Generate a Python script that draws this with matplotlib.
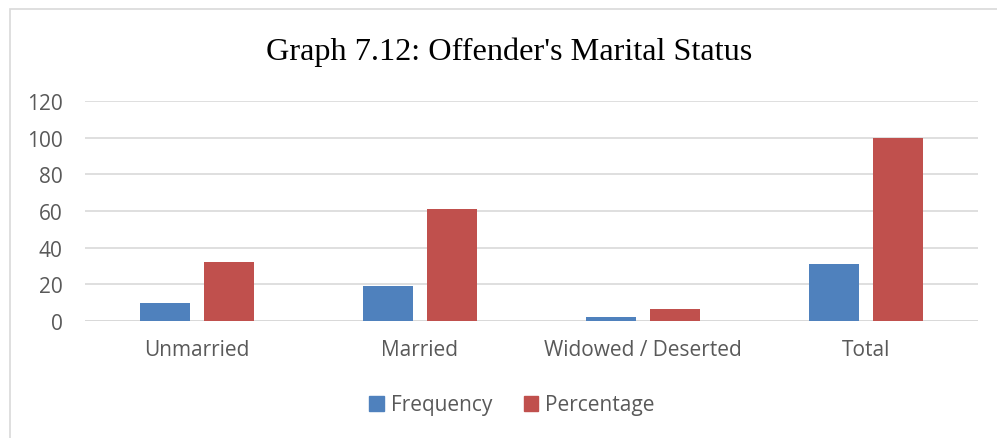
import numpy as np
import matplotlib.pyplot as plt
import matplotlib.patches as mpatches

# --- Data ---
categories = ["Unmarried", "Married", "Widowed / Deserted", "Total"]
frequency = [10, 19, 2, 31]
percentage = [32.26, 61.29, 6.45, 100]
yticks = [0, 20, 40, 60, 80, 100, 120]

BLUE = "#4f81bd"
RED = "#c0504d"
GRID = "#d9d9d9"
TICK = "#595959"

W, H = 997, 439
fig = plt.figure(figsize=(W / 100, H / 100), dpi=100, facecolor="white")

# plot area in pixel coords
x0, x1 = 85, 978
y_top, y_bot = 102, 322
ax = fig.add_axes([x0 / W, 1 - y_bot / H, (x1 - x0) / W, (y_bot - y_top) / H])
ax.set_facecolor("white")

x = np.arange(len(categories))
bw = 0.224
off = 0.143
ax.bar(x - off, frequency, bw, color=BLUE, label="Frequency", zorder=3)
ax.bar(x + off, percentage, bw, color=RED, label="Percentage", zorder=3)

ax.set_xlim(-0.5, len(categories) - 0.5)
ax.set_ylim(0, 120)
ax.set_yticks(yticks)
ax.yaxis.grid(True, color=GRID, linewidth=1.2)
ax.set_axisbelow(True)
for s in ax.spines.values():
    s.set_visible(False)
ax.axhline(0, color=GRID, linewidth=1.4, zorder=2)
ax.tick_params(axis="both", length=0, colors=TICK, labelsize=15)
ax.tick_params(axis="y", pad=16)
ax.tick_params(axis="x", pad=13)
ax.set_xticks(x)
ax.set_xticklabels(categories)
for lab in ax.get_xticklabels() + ax.get_yticklabels():
    lab.set_family("Open Sans")

fig.text(509 / W, 1 - 52 / H, "Graph 7.12: Offender's Marital Status",
         ha="center", va="center", fontsize=23.2, family="Liberation Serif", color="black")

handles = [mpatches.Patch(color=BLUE, label="Frequency"),
           mpatches.Patch(color=RED, label="Percentage")]
fig.legend(handles=handles, loc="center", bbox_to_anchor=(512 / W, 1 - 406 / H),
           ncol=2, frameon=False, prop={"family": "Open Sans", "size": 15},
           labelcolor=TICK, handlelength=0.7, handleheight=0.7, handletextpad=0.35,
           columnspacing=1.5)

# chart border (top and left visible)
border = mpatches.Rectangle((10 / W, -0.1), 1.2, 1 - 10 / H + 0.1, transform=fig.transFigure,
                            fill=False, edgecolor=GRID, linewidth=1.2)
fig.patches.append(border)

fig.savefig("out.png", dpi=100, facecolor="white")
